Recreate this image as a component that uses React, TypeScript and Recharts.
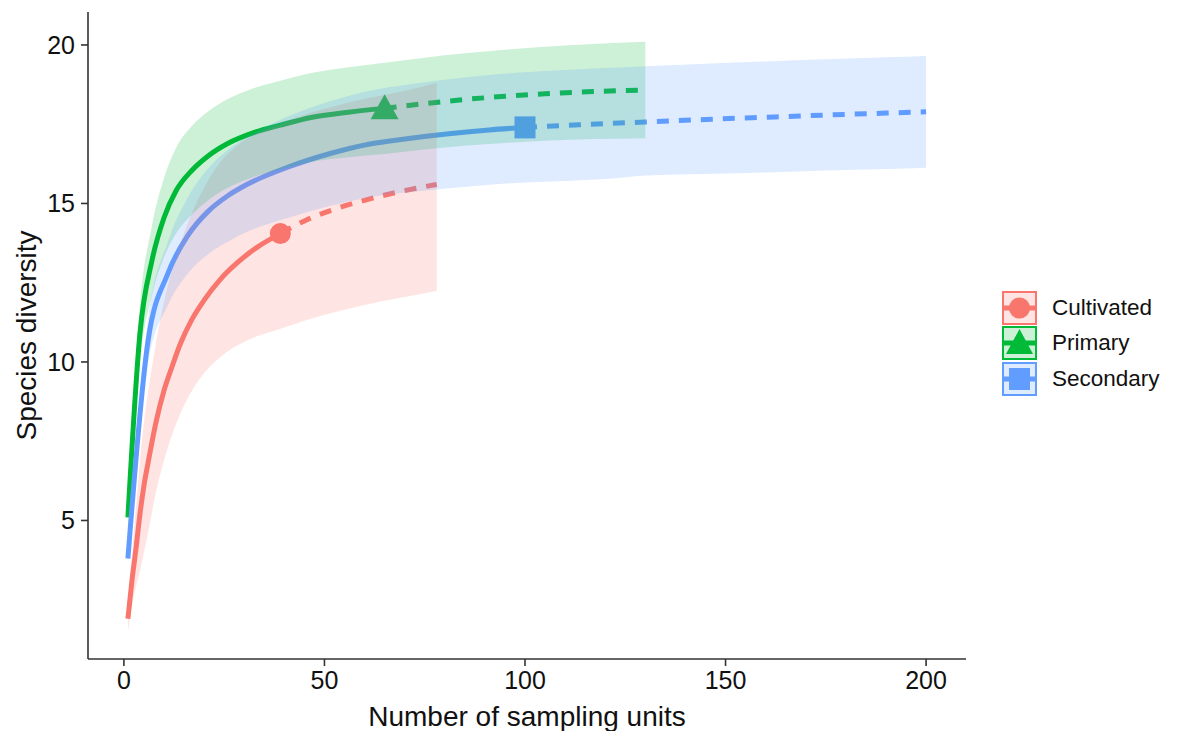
import React from 'react';
import {
  ComposedChart,
  Area,
  Line,
  Scatter,
  XAxis,
  YAxis,
  Label,
} from 'recharts';

// sampling units (knots) and estimated diversity
const cultX = [1, 2, 3, 4, 5, 6, 8, 10, 12, 14, 17, 20, 24, 28, 33, 39, 45, 52, 60, 68, 78];
const cultMean = [1.9, 3.1, 4.1, 5.2, 6.1, 6.8, 8.1, 9.1, 9.85, 10.55, 11.35, 11.95, 12.6, 13.1, 13.6, 14.05, 14.45, 14.8, 15.1, 15.35, 15.6];
const cultLow = [1.5, 2.3, 2.9, 3.4, 4.0, 4.6, 5.9, 6.9, 7.7, 8.35, 9.1, 9.65, 10.15, 10.5, 10.8, 11.05, 11.3, 11.55, 11.8, 12.0, 12.25];
const cultHigh = [2.3, 3.9, 5.4, 6.9, 8.1, 9.0, 10.6, 11.9, 12.9, 13.7, 14.7, 15.5, 16.3, 16.8, 17.2, 17.5, 17.8, 18.05, 18.3, 18.5, 18.8];

const primX = [1, 4, 7, 10, 13, 17, 21, 26, 32, 39, 47, 56, 65, 75, 85, 95, 105, 117, 130];
const primMean = [5.1, 10.9, 13.2, 14.55, 15.4, 16.05, 16.5, 16.9, 17.22, 17.47, 17.72, 17.88, 18.0, 18.15, 18.28, 18.38, 18.46, 18.53, 18.58];
const primLow = [4.8, 10.0, 12.1, 13.3, 14.05, 14.65, 15.1, 15.5, 15.82, 16.07, 16.32, 16.46, 16.56, 16.7, 16.82, 16.91, 16.98, 17.03, 17.06];
const primHigh = [5.4, 11.8, 14.3, 15.8, 16.75, 17.45, 17.9, 18.3, 18.62, 18.87, 19.12, 19.3, 19.44, 19.6, 19.74, 19.85, 19.94, 20.03, 20.1];

const secX = [1, 6, 11, 16, 21, 26, 31, 41, 51, 61, 71, 81, 91, 100, 110, 120, 130, 145, 160, 175, 190, 200];
const secMean = [3.8, 10.65, 12.8, 14.0, 14.75, 15.25, 15.62, 16.15, 16.56, 16.87, 17.05, 17.2, 17.32, 17.4, 17.46, 17.52, 17.57, 17.65, 17.72, 17.79, 17.85, 17.89];
const secLow = [3.6, 9.95, 11.8, 12.8, 13.4, 13.8, 14.12, 14.55, 14.91, 15.19, 15.35, 15.48, 15.59, 15.66, 15.71, 15.77, 15.88, 15.93, 15.98, 16.04, 16.09, 16.13];
const secHigh = [4.0, 11.35, 13.8, 15.2, 16.1, 16.7, 17.12, 17.75, 18.21, 18.55, 18.75, 18.92, 19.05, 19.14, 19.21, 19.27, 19.33, 19.41, 19.48, 19.55, 19.61, 19.65];

// observed sample size of each site type
const observedN = { Cultivated: 39, Primary: 65, Secondary: 100 };

const xTicks = [0, 50, 100, 150, 200];
const yTicks = [5, 10, 15, 20];

const RED = '#F8766D';
const GREEN = '#00BA38';
const BLUE = '#619CFF';
const FONT = '"Liberation Sans", Arial, sans-serif';

const makeRows = (xs: number[], mean: number[], low: number[], high: number[]) =>
  xs.map((x, i) => ({ x, y: mean[i], band: [low[i], high[i]] }));

const cultRows = makeRows(cultX, cultMean, cultLow, cultHigh);
const primRows = makeRows(primX, primMean, primLow, primHigh);
const secRows = makeRows(secX, secMean, secLow, secHigh);

const split = (rows: any[], n: number) => ({
  rare: rows.filter((r) => r.x <= n),
  extra: rows.filter((r) => r.x >= n),
  obs: rows.filter((r) => r.x === n),
});

const cult = split(cultRows, observedN.Cultivated);
const prim = split(primRows, observedN.Primary);
const sec = split(secRows, observedN.Secondary);

const CircleShape = ({ cx, cy }: any) => <circle cx={cx} cy={cy} r={10.5} fill={RED} />;
const TriangleShape = ({ cx, cy }: any) => (
  <polygon points={`${cx},${cy - 14} ${cx + 14},${cy + 11} ${cx - 14},${cy + 11}`} fill={GREEN} />
);
const SquareShape = ({ cx, cy }: any) => (
  <rect x={cx - 10.5} y={cy - 11} width={21} height={22} fill={BLUE} />
);

const legendItems = [
  { name: 'Cultivated', color: RED, shape: 'circle' },
  { name: 'Primary', color: GREEN, shape: 'triangle' },
  { name: 'Secondary', color: BLUE, shape: 'square' },
];

const LegendIcon = ({ color, shape }: { color: string; shape: string }) => (
  <svg width={35} height={34}>
    <rect x={1} y={1} width={33} height={32} fill={color} fillOpacity={0.2} stroke={color} strokeWidth={2} />
    <line x1={2} x2={33} y1={17} y2={17} stroke={color} strokeWidth={5} />
    {shape === 'circle' && <circle cx={17.5} cy={17} r={10.5} fill={color} />}
    {shape === 'triangle' && <polygon points="17.5,3 31,28 4,28" fill={color} />}
    {shape === 'square' && <rect x={7} y={6} width={21} height={22} fill={color} />}
  </svg>
);

const series = [
  { key: 'Cultivated', color: RED, data: cult, rows: cultRows, shape: CircleShape },
  { key: 'Primary', color: GREEN, data: prim, rows: primRows, shape: TriangleShape },
  { key: 'Secondary', color: BLUE, data: sec, rows: secRows, shape: SquareShape },
];

export default function App() {
  return (
    <div style={{ position: 'relative', width: 1170, height: 723, fontFamily: FONT }}>
      <ComposedChart width={1170} height={723} margin={{ top: 4, right: 212, bottom: 0, left: 0 }}>
        <XAxis
          type="number"
          dataKey="x"
          domain={[-8.95, 209.95]}
          ticks={xTicks}
          allowDataOverflow
          height={72}
          stroke="#333"
          strokeWidth={1.6}
          tickSize={7}
          tickMargin={5}
          tick={{ fontSize: 25, fill: '#111', fontFamily: FONT }}
        >
          <Label value="Number of sampling units" position="insideBottom" offset={5} style={{ fontSize: 28, fill: '#111', fontFamily: FONT }} />
        </XAxis>
        <YAxis
          type="number"
          dataKey="y"
          domain={[0.63, 21.04]}
          ticks={yTicks}
          allowDataOverflow
          width={80}
          stroke="#333"
          strokeWidth={1.6}
          tickSize={7}
          tickMargin={6}
          tick={{ fontSize: 25, fill: '#111', fontFamily: FONT }}
        >
          <Label
            value="Species diversity"
            angle={-90}
            position="insideLeft"
            offset={18}
            style={{ fontSize: 28, fill: '#111', fontFamily: FONT, textAnchor: 'middle' }}
          />
        </YAxis>

        {series.map((s) => (
          <Line
            key={`${s.key}-rare`}
            data={s.data.rare}
            dataKey="y"
            type="monotone"
            stroke={s.color}
            strokeWidth={5}
            dot={false}
            activeDot={false}
            isAnimationActive={false}
          />
        ))}
        {series.map((s) => (
          <Line
            key={`${s.key}-extra`}
            data={s.data.extra}
            dataKey="y"
            type="monotone"
            stroke={s.color}
            strokeWidth={5}
            strokeDasharray="12 10"
            dot={false}
            activeDot={false}
            isAnimationActive={false}
          />
        ))}
        {series.map((s) => (
          <Scatter
            key={`${s.key}-obs`}
            data={s.data.obs}
            dataKey="y"
            shape={s.shape}
            isAnimationActive={false}
          />
        ))}
        {series.map((s) => (
          <Area
            key={`${s.key}-band`}
            data={s.rows}
            dataKey="band"
            type="monotone"
            stroke="none"
            fill={s.color}
            fillOpacity={0.2}
            dot={false}
            activeDot={false}
            isAnimationActive={false}
            zIndex={650}
          />
        ))}
      </ComposedChart>

      <div style={{ position: 'absolute', left: 994, top: 282 }}>
        {legendItems.map((item) => (
          <div key={item.name} style={{ display: 'flex', alignItems: 'center', height: 35.5 }}>
            <LegendIcon color={item.color} shape={item.shape} />
            <span style={{ marginLeft: 15, fontSize: 22.5, color: '#111' }}>{item.name}</span>
          </div>
        ))}
      </div>
    </div>
  );
}
